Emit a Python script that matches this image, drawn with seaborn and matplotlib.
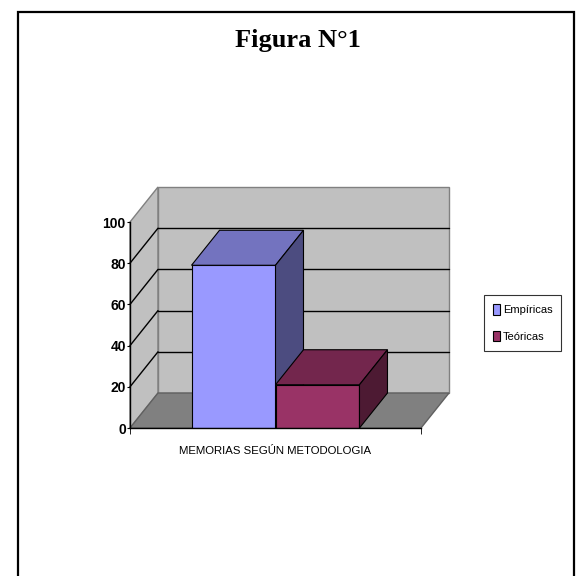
import numpy as np
import pandas as pd
import matplotlib
matplotlib.use("Agg")
import matplotlib.pyplot as plt
import seaborn as sns
from matplotlib.patches import Polygon, Rectangle, Patch
from matplotlib.transforms import IdentityTransform

# ---- data ----
category = ["MEMORIAS SEGÚN METODOLOGIA"]
series = ["Empíricas", "Teóricas"]
values = [79, 21]
y_ticks = [0, 20, 40, 60, 80, 100]
title = "Figura N°1"

# ---- style ----
front_colors = ["#9999FF", "#993366"]
top_colors = ["#7373BF", "#73264D"]
side_colors = ["#4C4C80", "#4D1A33"]
narrow = ["Liberation Sans Narrow", "Liberation Sans", "DejaVu Sans"]

sns.set_style("white")
plt.rcParams["font.family"] = narrow
plt.rcParams["text.color"] = "black"
plt.rcParams["xtick.color"] = "black"
plt.rcParams["ytick.color"] = "black"
plt.rcParams["xtick.labelcolor"] = "black"
plt.rcParams["ytick.labelcolor"] = "black"

DPI = 100
fig = plt.figure(figsize=(5.76, 5.76), dpi=DPI, facecolor="white")
ax = fig.add_axes([130 / 576, 148 / 576, 291 / 576, 206 / 576])
ax.patch.set_visible(False)

df = pd.DataFrame({"categoria": category * len(series), "serie": series, "valor": values})
sns.barplot(data=df, x="categoria", y="valor", hue="serie", palette=front_colors,
            hue_order=series, width=0.8, edgecolor="black", linewidth=0.8,
            saturation=1, ax=ax, legend=False, errorbar=None)

xmin, xmax = -0.693, 0.693
ax.set_xlim(xmin, xmax)
ax.set_ylim(0, 100)

DX, DY = 28, 35  # depth offset in pixels
ident = IdentityTransform()


def fr(x, y):
    return np.array(ax.transData.transform((x, y)))


def bk(x, y):
    return fr(x, y) + np.array([DX, DY])


def poly(pts, fc, ec, lw, z):
    p = Polygon(pts, closed=True, facecolor=fc, edgecolor=ec, linewidth=lw,
                transform=ident, clip_on=False, zorder=z)
    ax.add_patch(p)


wall_edge = "#808080"
bars = [p for p in ax.patches if isinstance(p, Rectangle)]
bars = sorted(bars, key=lambda r: r.get_x())[:len(series)]

# left wall
poly([fr(xmin, 0), bk(xmin, 0), bk(xmin, 100), fr(xmin, 100)], "#C0C0C0", wall_edge, 1.0, 0.5)
# back wall
poly([bk(xmin, 0), bk(xmax, 0), bk(xmax, 100), bk(xmin, 100)], "#C0C0C0", wall_edge, 1.0, 0.5)
# floor
poly([fr(xmin, 0), fr(xmax, 0), bk(xmax, 0), bk(xmin, 0)], "#808080", "#606060", 1.0, 0.6)

# gridlines
for v in y_ticks[1:-1]:
    a, b = bk(xmin, v), bk(xmax, v)
    ax.plot([a[0], b[0]], [a[1], b[1]], color="black", lw=1.0, transform=ident,
            clip_on=False, zorder=0.7)
    c, d = fr(xmin, v), bk(xmin, v)
    ax.plot([c[0], d[0]], [c[1], d[1]], color="black", lw=1.0, transform=ident,
            clip_on=False, zorder=0.7)

# 3D tops and sides for bars
for i, r in enumerate(bars):
    x0 = r.get_x()
    x1 = x0 + r.get_width()
    h = r.get_height()
    z = 3 + i
    r.set_zorder(z)
    poly([fr(x0, h), fr(x1, h), bk(x1, h), bk(x0, h)], top_colors[i], "black", 0.8, z + 0.1)
    poly([fr(x1, 0), bk(x1, 0), bk(x1, h), fr(x1, h)], side_colors[i], "black", 0.8, z + 0.1)

# axes styling
for s in ["top", "right"]:
    ax.spines[s].set_visible(False)
for s in ["left", "bottom"]:
    ax.spines[s].set_color("black")
    ax.spines[s].set_linewidth(1.0)
    ax.spines[s].set_zorder(10)

ax.set_yticks(y_ticks)
ax.set_yticklabels([str(t) for t in y_ticks], fontsize=10, fontweight="bold", color="black")
ax.tick_params(axis="y", length=2, pad=1, left=True, color="black")
ax.set_xticks([0])
ax.set_xticklabels(category, fontsize=8.2, color="black")
ax.tick_params(axis="x", which="major", length=0, pad=13)
ax.set_xticks([xmin, xmax], minor=True)
ax.tick_params(axis="x", which="minor", length=4, color="black", bottom=True)
ax.set_xlabel("")
ax.set_ylabel("")

# legend
handles = [Patch(facecolor=c, edgecolor="black", linewidth=0.8) for c in front_colors]
leg = fig.legend(handles, series, loc="upper left", bbox_to_anchor=(484 / 576, 1 - 295 / 576),
                 frameon=True, fancybox=False, edgecolor="black", fontsize=8,
                 handlelength=0.6, handleheight=1.1, handletextpad=0.3,
                 labelspacing=1.4, borderpad=0.8, borderaxespad=0, labelcolor="black")
leg.get_frame().set_linewidth(0.8)

# title
fig.text(298 / 576, 1 - 40 / 576, title, ha="center", va="center", fontsize=19,
         fontweight="bold", color="black", family=["Liberation Serif", "DejaVu Serif"])

# outer frame
fig.add_artist(Rectangle((18 / 576, -0.1), (574 - 18) / 576, 1.1 - 12 / 576,
                         transform=fig.transFigure, fill=False, edgecolor="black",
                         linewidth=1.6, clip_on=False))

fig.savefig("out.png", dpi=DPI, facecolor="white")
